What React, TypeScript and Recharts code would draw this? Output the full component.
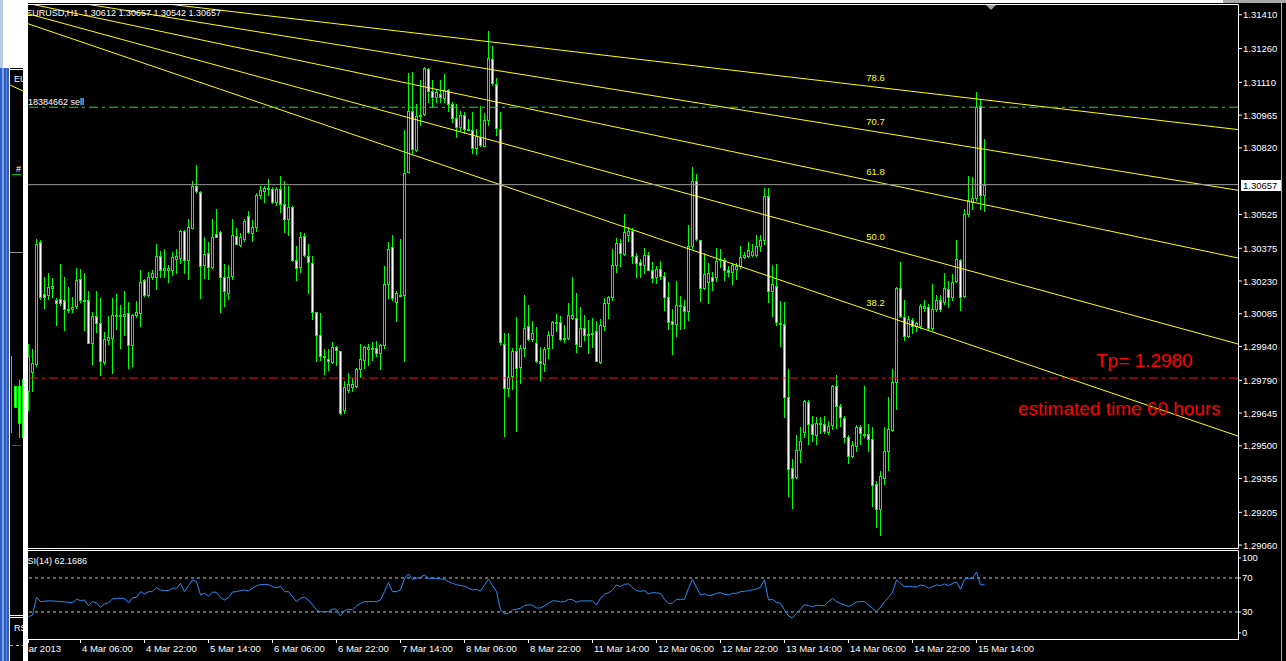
import React from 'react';
import {
  ComposedChart,
  LineChart,
  Line,
  Bar,
  XAxis,
  YAxis,
  ReferenceLine,
  ReferenceDot,
} from 'recharts';

const W = 1286;
const H = 661;
const PLOT_L = 28;
const PLOT_R = 1238;
const MAIN_TOP = 5;
const MAIN_BOTTOM = 548;
const RSI_TOP = 550;
const RSI_BOTTOM = 639;
const FONT = '"Liberation Sans", Arial, sans-serif';

// EURUSD H1, one entry per hourly bar (1 Mar 17:00 .. 15 Mar 16:00)
const OPEN = [
  1.29742, 1.29827, 1.29861, 1.30405, 1.30171, 1.30168, 1.30198, 1.30148, 1.3015, 1.30148,
  1.30108, 1.30106, 1.30119, 1.30238, 1.30148, 1.30148, 1.29954, 1.30075, 1.30044, 1.29869,
  1.29967, 1.29978, 1.30077, 1.30075, 1.30075, 1.30088, 1.29947, 1.3008, 1.30088, 1.30233,
  1.30168, 1.30246, 1.30246, 1.30342, 1.30281, 1.30277, 1.30277, 1.30328, 1.30331, 1.30452,
  1.30323, 1.30467, 1.30653, 1.30626, 1.303, 1.30354, 1.30292, 1.3044, 1.30447, 1.30246,
  1.30179, 1.30253, 1.3043, 1.3039, 1.30416, 1.3052, 1.30443, 1.3047, 1.3061, 1.30629,
  1.30639, 1.30636, 1.30579, 1.30636, 1.30571, 1.30505, 1.30559, 1.30323, 1.30292, 1.30429,
  1.30339, 1.30312, 1.30091, 1.2999, 1.29899, 1.29886, 1.29869, 1.29936, 1.2992, 1.29657,
  1.29747, 1.29761, 1.29765, 1.29838, 1.29878, 1.29928, 1.29928, 1.29933, 1.29909, 1.29947,
  1.30215, 1.30381, 1.30137, 1.30167, 1.30168, 1.30714, 1.30985, 1.30812, 1.30959, 1.3097,
  1.31168, 1.31072, 1.31044, 1.3106, 1.31041, 1.31075, 1.31016, 1.30951, 1.30912, 1.30967,
  1.30905, 1.30897, 1.30819, 1.3087, 1.3083, 1.30943, 1.31215, 1.31103, 1.30905, 1.29951,
  1.29758, 1.29809, 1.2992, 1.29847, 1.29931, 1.30029, 1.29974, 1.29956, 1.29874, 1.29861,
  1.29931, 1.29993, 1.30047, 1.30049, 1.29978, 1.29978, 1.30067, 1.30064, 1.29944, 1.30021,
  1.29995, 1.29998, 1.30009, 1.29869, 1.30029, 1.30133, 1.30157, 1.303, 1.30398, 1.3035,
  1.30435, 1.30452, 1.30342, 1.30316, 1.30303, 1.30347, 1.3028, 1.30246, 1.30285, 1.30253,
  1.30157, 1.30052, 1.3004, 1.30122, 1.30119, 1.30095, 1.30385, 1.30672, 1.30412, 1.30199,
  1.30226, 1.30249, 1.3025, 1.30323, 1.30323, 1.30277, 1.30269, 1.30285, 1.30297, 1.30336,
  1.30343, 1.30347, 1.30347, 1.30385, 1.30412, 1.30607, 1.30184, 1.3021, 1.30044, 1.3004,
  1.29714, 1.29401, 1.29362, 1.29482, 1.29559, 1.29696, 1.29595, 1.29548, 1.29595, 1.29595,
  1.29559, 1.2959, 1.29765, 1.29675, 1.29621, 1.29541, 1.29455, 1.29497, 1.29584, 1.29553,
  1.29551, 1.29528, 1.29331, 1.29218, 1.29359, 1.29475, 1.29568, 1.29781, 1.30199, 1.30071,
  1.29987, 1.30057, 1.30029, 1.30029, 1.30111, 1.30117, 1.30024, 1.30106, 1.30145, 1.30137,
  1.30195, 1.30157, 1.3023, 1.30323, 1.30164, 1.30525, 1.30582, 1.30598, 1.31005, 1.30612,
];

const HIGH = [
  1.29951, 1.29928, 1.30416, 1.30413, 1.30246, 1.30266, 1.30243, 1.30153, 1.30306, 1.30246,
  1.30204, 1.30157, 1.30288, 1.30285, 1.30264, 1.30187, 1.30091, 1.30187, 1.30153, 1.30005,
  1.30075, 1.30153, 1.30173, 1.30122, 1.30187, 1.30137, 1.30086, 1.30142, 1.30277, 1.30238,
  1.30269, 1.30277, 1.30396, 1.30365, 1.3037, 1.303, 1.30357, 1.3037, 1.30458, 1.30458,
  1.30505, 1.30672, 1.30746, 1.30629, 1.30424, 1.30401, 1.30505, 1.30548, 1.30452, 1.30305,
  1.30303, 1.30506, 1.30463, 1.30443, 1.30505, 1.3054, 1.30501, 1.30618, 1.30653, 1.30653,
  1.30683, 1.30646, 1.30646, 1.30695, 1.30675, 1.30649, 1.30564, 1.30385, 1.30447, 1.30443,
  1.30396, 1.30339, 1.30091, 1.30088, 1.29928, 1.29928, 1.29959, 1.29944, 1.2992, 1.29789,
  1.29823, 1.29801, 1.29846, 1.29951, 1.29944, 1.29951, 1.29959, 1.29964, 1.29951, 1.30297,
  1.30405, 1.30435, 1.30187, 1.30416, 1.30897, 1.31153, 1.31157, 1.31013, 1.31122, 1.31179,
  1.31173, 1.31122, 1.31078, 1.31122, 1.31149, 1.31083, 1.31021, 1.31013, 1.30982, 1.30979,
  1.30946, 1.30977, 1.30905, 1.31005, 1.30974, 1.31339, 1.31272, 1.31129, 1.30979, 1.29998,
  1.29998, 1.29933, 1.30071, 1.29947, 1.30168, 1.30125, 1.30055, 1.30026, 1.29936, 1.29939,
  1.30009, 1.30055, 1.30086, 1.30075, 1.30037, 1.30133, 1.30246, 1.30179, 1.30117, 1.3008,
  1.30057, 1.30067, 1.30055, 1.3006, 1.30153, 1.30165, 1.30374, 1.30419, 1.30416, 1.30529,
  1.3047, 1.30463, 1.30354, 1.30328, 1.30377, 1.30359, 1.30316, 1.30295, 1.30319, 1.30269,
  1.30227, 1.30106, 1.3023, 1.30164, 1.30145, 1.30478, 1.30737, 1.30706, 1.30413, 1.30354,
  1.30312, 1.30269, 1.30377, 1.30374, 1.30331, 1.30297, 1.30312, 1.30308, 1.30385, 1.30359,
  1.30405, 1.30393, 1.30436, 1.30432, 1.30641, 1.30644, 1.303, 1.30305, 1.3014, 1.30137,
  1.29838, 1.2944, 1.29548, 1.29584, 1.29703, 1.29703, 1.29634, 1.29629, 1.29629, 1.29634,
  1.2961, 1.2977, 1.29812, 1.29683, 1.29634, 1.29548, 1.29522, 1.2959, 1.2959, 1.29765,
  1.29595, 1.29584, 1.29342, 1.29386, 1.29584, 1.29714, 1.29838, 1.30204, 1.30316, 1.30145,
  1.30075, 1.30067, 1.30049, 1.30126, 1.30148, 1.3013, 1.30215, 1.30168, 1.30168, 1.30266,
  1.3023, 1.30261, 1.30412, 1.30328, 1.30551, 1.30695, 1.30691, 1.31067, 1.31036, 1.30861,
];

const LOW = [
  1.29657, 1.29742, 1.29854, 1.30151, 1.30111, 1.3015, 1.3016, 1.30033, 1.30125, 1.30013,
  1.30094, 1.30091, 1.30111, 1.30137, 1.30013, 1.29954, 1.29861, 1.30005, 1.29812, 1.29861,
  1.29951, 1.29824, 1.30018, 1.29931, 1.2999, 1.29843, 1.29854, 1.30071, 1.30029, 1.30164,
  1.30164, 1.30238, 1.30195, 1.3025, 1.30246, 1.30227, 1.30257, 1.30266, 1.30311, 1.30266,
  1.30241, 1.30463, 1.30626, 1.30153, 1.30243, 1.30238, 1.30289, 1.30424, 1.30091, 1.30119,
  1.3015, 1.30241, 1.30393, 1.30385, 1.30408, 1.30443, 1.30408, 1.30452, 1.30598, 1.30579,
  1.3061, 1.30576, 1.30567, 1.30536, 1.30447, 1.30432, 1.30319, 1.30235, 1.30269, 1.30339,
  1.30176, 1.3006, 1.29874, 1.29882, 1.29816, 1.29835, 1.29866, 1.29858, 1.29641, 1.29646,
  1.29739, 1.29742, 1.29762, 1.29804, 1.29843, 1.29858, 1.29882, 1.29897, 1.29838, 1.29931,
  1.30153, 1.30148, 1.30052, 1.30164, 1.29874, 1.30711, 1.30799, 1.30808, 1.30923, 1.30967,
  1.31025, 1.31001, 1.31021, 1.31021, 1.31021, 1.30985, 1.30936, 1.30866, 1.30897, 1.30886,
  1.30897, 1.30799, 1.30791, 1.3083, 1.30827, 1.3092, 1.31098, 1.30877, 1.29951, 1.29544,
  1.29719, 1.2975, 1.29564, 1.29776, 1.29897, 1.29967, 1.29964, 1.29871, 1.29792, 1.29832,
  1.29889, 1.29931, 1.30009, 1.29967, 1.29959, 1.29971, 1.3006, 1.29917, 1.2994, 1.2997,
  1.29912, 1.29936, 1.29874, 1.29866, 1.30013, 1.30064, 1.30145, 1.30269, 1.30295, 1.30347,
  1.30408, 1.30308, 1.3025, 1.3025, 1.30266, 1.30277, 1.30226, 1.30222, 1.30238, 1.30103,
  1.30018, 1.29905, 1.29987, 1.30018, 1.30021, 1.30057, 1.30377, 1.30412, 1.30142, 1.30196,
  1.30134, 1.30188, 1.3023, 1.30292, 1.30233, 1.30253, 1.30218, 1.30238, 1.30288, 1.30331,
  1.30336, 1.30339, 1.30339, 1.30362, 1.30393, 1.30137, 1.30075, 1.30037, 1.29944, 1.29626,
  1.29277, 1.29223, 1.29355, 1.29429, 1.29541, 1.2951, 1.29522, 1.2951, 1.29556, 1.29556,
  1.29553, 1.29575, 1.29579, 1.29587, 1.29517, 1.29424, 1.29451, 1.29475, 1.29506, 1.29541,
  1.29479, 1.29235, 1.29142, 1.29103, 1.29331, 1.29393, 1.29564, 1.29665, 1.30072, 1.29967,
  1.29982, 1.29998, 1.30009, 1.30021, 1.30099, 1.30018, 1.30013, 1.30099, 1.30099, 1.3013,
  1.30114, 1.30145, 1.30226, 1.30102, 1.3016, 1.3052, 1.30551, 1.30591, 1.30551, 1.30542,
];

const CLOSE = [
  1.29897, 1.29866, 1.30396, 1.30157, 1.30157, 1.30204, 1.30207, 1.30133, 1.30133, 1.30106,
  1.30103, 1.30117, 1.30235, 1.30148, 1.30147, 1.29956, 1.30075, 1.30044, 1.29874, 1.29974,
  1.29982, 1.3008, 1.3008, 1.30078, 1.30086, 1.29947, 1.30078, 1.30094, 1.30226, 1.30168,
  1.30249, 1.30266, 1.30342, 1.30281, 1.30288, 1.30289, 1.30337, 1.30339, 1.30452, 1.30323,
  1.3047, 1.30653, 1.30629, 1.30297, 1.3035, 1.30292, 1.30424, 1.30424, 1.30246, 1.30184,
  1.30246, 1.30432, 1.30396, 1.30424, 1.30498, 1.30447, 1.3047, 1.3061, 1.30633, 1.30641,
  1.30643, 1.30579, 1.30639, 1.30571, 1.30505, 1.30556, 1.30323, 1.30288, 1.30424, 1.30347,
  1.30316, 1.30094, 1.2999, 1.29897, 1.29897, 1.29874, 1.29936, 1.29923, 1.29644, 1.29761,
  1.29773, 1.29773, 1.2984, 1.29885, 1.29936, 1.29939, 1.29933, 1.29912, 1.29947, 1.30215,
  1.30374, 1.30153, 1.30176, 1.30168, 1.30708, 1.30982, 1.30815, 1.30959, 1.30967, 1.31173,
  1.31072, 1.31044, 1.31067, 1.31047, 1.31078, 1.31016, 1.30954, 1.30912, 1.30967, 1.30905,
  1.309, 1.30819, 1.30874, 1.30833, 1.30943, 1.31219, 1.31106, 1.30908, 1.29959, 1.29758,
  1.29804, 1.2992, 1.29843, 1.29933, 1.30021, 1.29971, 1.29998, 1.29874, 1.29866, 1.29928,
  1.2999, 1.30049, 1.3005, 1.29971, 1.29971, 1.3008, 1.3008, 1.29951, 1.30021, 1.2999,
  1.29993, 1.30001, 1.29877, 1.30033, 1.30133, 1.3016, 1.303, 1.30398, 1.30354, 1.30447,
  1.30452, 1.30342, 1.30312, 1.30303, 1.30347, 1.3028, 1.30243, 1.30285, 1.3025, 1.30157,
  1.30049, 1.3004, 1.30122, 1.30125, 1.30095, 1.30385, 1.30672, 1.30416, 1.30199, 1.30261,
  1.30266, 1.3023, 1.3032, 1.30328, 1.30277, 1.30272, 1.303, 1.30297, 1.30336, 1.30347,
  1.30367, 1.30365, 1.30385, 1.30412, 1.30607, 1.30184, 1.30215, 1.30049, 1.3004, 1.29716,
  1.29396, 1.29358, 1.29482, 1.29522, 1.29699, 1.29598, 1.29551, 1.29599, 1.29599, 1.29564,
  1.29587, 1.29765, 1.29677, 1.29626, 1.29541, 1.29455, 1.29502, 1.29584, 1.29556, 1.29548,
  1.29528, 1.29328, 1.29218, 1.29367, 1.29479, 1.29575, 1.29781, 1.30199, 1.30075, 1.29987,
  1.3006, 1.30029, 1.30044, 1.30119, 1.3012, 1.30021, 1.30106, 1.30145, 1.30106, 1.30199,
  1.3016, 1.30226, 1.30328, 1.3016, 1.30529, 1.30591, 1.30598, 1.31001, 1.30613, 1.30657,
];

const RSI = [
  24.5, 26.5, 47.3, 42.2, 42.6, 43, 43, 42.6, 42.2, 41.8,
  41.4, 41, 44.9, 43.4, 44.1, 37.5, 42.2, 40.6, 35.5, 39.4,
  41, 45.3, 46.1, 46.1, 46.1, 41, 46.5, 47.3, 53.9, 51.2,
  53.9, 53.9, 58.6, 55.9, 55.1, 55.1, 57.9, 57.9, 63.7, 53.9,
  61, 67.7, 65.7, 50, 52, 48.8, 53.2, 53.2, 46.9, 44.1,
  46.9, 53.5, 53.9, 55.1, 55.9, 54.7, 57.9, 61, 62.2, 62.2,
  62.2, 59.8, 58.6, 59.8, 53.9, 53.9, 48, 42.2, 46.1, 47.3,
  44.1, 38.3, 32.4, 30.4, 30.4, 30.4, 33.5, 33.2, 25.3, 31.6,
  33.2, 32.4, 37.1, 40.2, 42.2, 42.2, 42.2, 42.2, 44.1, 53.9,
  64.5, 53.9, 53.9, 55.9, 69.6, 74.7, 68.4, 69.6, 70.8, 73.5,
  69.6, 69.6, 69.2, 68.8, 68.4, 65.7, 63.7, 62.2, 61, 60.6,
  57.9, 55.9, 56.7, 54.7, 61.8, 68.8, 61, 53.9, 32.4, 27.7,
  28.5, 32.4, 33.2, 34.4, 37.5, 38.3, 37.9, 34.7, 34.7, 37.1,
  40.2, 43, 43, 41.8, 42.2, 44.9, 44.5, 41.4, 43, 43,
  43, 43, 38.3, 46.1, 51.2, 52.4, 55.9, 61.8, 59.8, 62.6,
  63, 58.6, 55.1, 54.3, 55.1, 51.2, 52.8, 52.4, 52, 44.9,
  40.2, 40.2, 44.9, 44.9, 44.9, 57.9, 68.4, 59, 50, 51.2,
  49.2, 50, 52, 52.8, 50.8, 50, 52, 52, 53.9, 54.3,
  55.1, 55.9, 57.1, 59, 67.7, 44.1, 44.9, 41.4, 40.2, 32.4,
  25.3, 23, 28.5, 33.2, 38.6, 37.5, 36.3, 37.9, 37.5, 37.5,
  42.2, 46.1, 42.2, 40.2, 38.3, 36.3, 38.6, 41.8, 42.2, 42.2,
  38.3, 34.4, 30.4, 35.5, 42.2, 47.3, 53.2, 67.7, 63.7, 59.8,
  60.2, 59.8, 59.4, 61.8, 61, 57.9, 59.8, 61.8, 61, 63,
  61, 63.4, 65.3, 56.7, 68.4, 69.6, 69.6, 77.1, 61.8, 62.2,
];

const priceTicks = [
  1.3141, 1.3126, 1.3111, 1.30965, 1.3082, 1.30525, 1.30375, 1.3023, 1.30085,
  1.2994, 1.2979, 1.29645, 1.295, 1.29355, 1.29205, 1.2906,
];
const rsiTicks = [0, 30, 70, 100];

const dateTickIdx = [0, 13, 29, 45, 61, 77, 93, 109, 125, 141, 157, 173, 189, 205, 221, 237];
const dateTickLabels = [
  '1 Mar 2013', '4 Mar 06:00', '4 Mar 22:00', '5 Mar 14:00', '6 Mar 06:00', '6 Mar 22:00',
  '7 Mar 14:00', '8 Mar 06:00', '8 Mar 22:00', '11 Mar 14:00', '12 Mar 06:00', '12 Mar 22:00',
  '13 Mar 14:00', '14 Mar 06:00', '14 Mar 22:00', '15 Mar 14:00',
];

// fibonacci fan, price where each ray meets the left and right edge of the window
const fanLevels = ['78.6', '70.7', '61.8', '50.0', '38.2'];
const fanStart = [1.3153, 1.31499, 1.3146, 1.31414, 1.3137];
const fanEnd = [1.30901, 1.30632, 1.30332, 1.29951, 1.29543];
const fanLabelPrice = [1.31131, 1.30936, 1.30714, 1.30426, 1.30134];
const fanLabelBar = 211.75;

const bidPrice = 1.30657;
const sellPrice = 1.31;
const tpPrice = 1.298;

const xDomain = [-0.125, 302.375];
const priceDomain = [1.29047, 1.31453];
const rsiDomain = [-1.8, 102.9];

const candles = OPEN.map((o, i) => ({
  i,
  o,
  h: HIGH[i],
  l: LOW[i],
  c: CLOSE[i],
  range: [LOW[i], HIGH[i]],
}));
const rsiData = RSI.map((rsi, i) => ({ i, rsi }));

const Candle = (props: any) => {
  const { x, y, width, height, payload } = props;
  if (x == null || payload == null) return null;
  const col = Math.floor(x + width / 2);
  const { o, h, l, c } = payload;
  const top0 = Math.min(y, y + height);
  const hgt = Math.abs(height);
  const span = h - l || 1;
  const at = (v: number) => top0 + ((h - v) / span) * hgt;
  const yH = Math.round(at(h));
  const yL = Math.round(at(l));
  const bTop = Math.round(at(Math.max(o, c)));
  let bBot = Math.round(at(Math.min(o, c)));
  if (bBot - bTop < 1) bBot = bTop + 1;
  const bh = bBot - bTop + 1;
  return (
    <g shapeRendering="crispEdges">
      <rect x={col} y={yH} width={1} height={Math.max(1, yL - yH + 1)} fill="#00ff00" />
      <rect x={col - 1} y={bTop} width={3} height={bh} fill="#00ff00" />
      {bh > 2 && (
        <rect x={col} y={bTop + 1} width={1} height={bh - 2} fill={c < o ? '#ffffff' : '#000000'} />
      )}
    </g>
  );
};

const PriceTick = (props: any) => {
  const { y, payload } = props;
  return (
    <g>
      <line x1={PLOT_R + 1} x2={PLOT_R + 4} y1={y} y2={y} stroke="#ffffff" />
      <text x={PLOT_R + 5} y={y + 3.5} fill="#ffffff" fontSize={9.5} fontFamily={FONT}>
        {Number(payload.value).toFixed(5)}
      </text>
    </g>
  );
};

const RsiTick = (props: any) => {
  const { y, payload } = props;
  const v = payload.value;
  const yy = v === 100 ? y + 5.5 : v === 0 ? y - 4.5 : y;
  return (
    <g>
      <line x1={PLOT_R + 1} x2={PLOT_R + 3} y1={yy} y2={yy} stroke="#ffffff" />
      <text x={PLOT_R + 4} y={yy + 3.5} fill="#ffffff" fontSize={9.5} fontFamily={FONT}>
        {v}
      </text>
    </g>
  );
};

const DateTick = (props: any) => {
  const { x, payload } = props;
  const k = dateTickIdx.indexOf(payload.value);
  const first = k === 0;
  return (
    <g>
      <line x1={x} x2={x} y1={RSI_BOTTOM} y2={RSI_BOTTOM + 4} stroke="#ffffff" />
      <text
        x={first ? x + 32.5 : x + 1.5}
        y={RSI_BOTTOM + 13}
        textAnchor={first ? 'end' : 'start'}
        fill="#ffffff"
        fontSize={9.5}
        fontFamily={FONT}
      >
        {dateTickLabels[k]}
      </text>
    </g>
  );
};

const PriceTag = (props: any) => {
  const vb = props.viewBox || {};
  const x = vb.x + vb.width + 3;
  const y = Math.round(vb.y);
  return (
    <g>
      <rect x={x} y={y - 5} width={40} height={11} fill="#ffffff" />
      <text x={x + 2} y={y + 4} fill="#000000" fontSize={9.5} fontFamily={FONT}>
        {bidPrice.toFixed(5)}
      </text>
    </g>
  );
};

const Overlay = () => (
  <svg width={W} height={H} style={{ position: 'absolute', left: 0, top: 0 }}>
    <rect x={28} y={0} width={1195} height={3} fill="#ffffff" />
    <rect x={1223} y={0} width={63} height={3} fill="#a8a8a8" />
    <path d={`M${PLOT_L} 4.5H${PLOT_R + 0.5}V${MAIN_BOTTOM + 0.5}H${PLOT_L}`} stroke="#ffffff" fill="none" />
    <path d={`M${PLOT_L} ${RSI_TOP + 0.5}H${PLOT_R + 0.5}V${RSI_BOTTOM + 0.5}H${PLOT_L}`} stroke="#ffffff" fill="none" />
    <polygon points="986,5 996,5 991,10" fill="#a0a0a0" />
    <line x1={1281.5} x2={1281.5} y1={0} y2={H} stroke="#b0b0b0" />

    <text x={221} y={16} textAnchor="end" fill="#ffffff" fontSize={9} fontFamily={FONT} xmlSpace="preserve">
      EURUSD,H1  1.30612 1.30657 1.30542 1.30657
    </text>
    <text x={84} y={105} textAnchor="end" fill="#ffffff" fontSize={9} fontFamily={FONT}>
      #18384662 sell
    </text>
    <text x={87} y={564} textAnchor="end" fill="#ffffff" fontSize={9} fontFamily={FONT}>
      RSI(14) 62.1686
    </text>
    <text x={1096} y={367} fill="#ff0000" fontSize={19} fontFamily={FONT}>
      Tp= 1.2980
    </text>
    <text x={1018} y={415} fill="#ff0000" fontSize={19} fontFamily={FONT}>
      estimated time 60 hours
    </text>

    {/* window behind, on the left */}
    <rect x={0} y={0} width={28} height={H} fill="#ffffff" />
    <rect x={0} y={0} width={3} height={68} fill="#b5cbe9" />
    <rect x={0} y={68} width={9} height={H - 68} fill="#2d5fc4" />
    <rect x={2} y={68} width={2} height={H - 68} fill="#7ea0e6" />
    <rect x={6} y={68} width={1} height={H - 68} fill="#5b83d8" />
    <rect x={9} y={68} width={14} height={H - 68} fill="#000000" />
    <line x1={9.5} x2={9.5} y1={68} y2={H} stroke="#ffffff" />
    <line x1={9} x2={23} y1={69.5} y2={69.5} stroke="#ffffff" />
    <text x={14} y={82} fill="#ffffff" fontSize={9} fontFamily={FONT}>EU</text>
    <line x1={10} x2={23} y1={85} y2={91} stroke="#ffff00" />
    <text x={16} y={172} fill="#ffffff" fontSize={9} fontFamily={FONT}>#</text>
    <line x1={12} x2={21} y1={174.5} y2={174.5} stroke="#00c000" />
    <line x1={10} x2={23} y1={252.5} y2={252.5} stroke="#909090" />
    <rect x={11} y={356} width={1} height={77} fill="#00ff00" />
    <rect x={14} y={386} width={3} height={22} fill="#00ff00" />
    <rect x={15} y={387} width={1} height={20} fill="#ffffff" />
    <rect x={19} y={380} width={1} height={58} fill="#00ff00" />
    <rect x={18} y={386} width={3} height={38} fill="#00ff00" />
    <rect x={19} y={387} width={1} height={36} fill="#ffffff" />
    <rect x={22} y={379} width={1} height={59} fill="#00ff00" />
    <line x1={12} x2={21} y1={445.5} y2={445.5} stroke="#ff0000" />
    <line x1={10} x2={23} y1={615.5} y2={615.5} stroke="#ffffff" />
    <line x1={10} x2={23} y1={617.5} y2={617.5} stroke="#ffffff" />
    <text x={14} y={631} fill="#ffffff" fontSize={9} fontFamily={FONT}>RS</text>
    <line x1={10} x2={23} y1={645.5} y2={645.5} stroke="#bbbbbb" strokeDasharray="3 3" />
  </svg>
);

export default function App() {
  return (
    <div style={{ position: 'absolute', left: 0, top: 0, width: W, height: H, background: '#000000', overflow: 'hidden' }}>
      <div style={{ position: 'absolute', left: 0, top: 0 }}>
        <ComposedChart
          width={W}
          height={H}
          data={candles}
          margin={{ top: MAIN_TOP, right: 0, bottom: H - MAIN_BOTTOM, left: PLOT_L }}
        >
          <XAxis type="number" dataKey="i" domain={xDomain} allowDataOverflow hide />
          <YAxis
            orientation="right"
            domain={priceDomain}
            allowDataOverflow
            ticks={priceTicks}
            interval={0}
            width={W - PLOT_R}
            tick={<PriceTick />}
            tickLine={false}
            axisLine={false}
          />
          {fanLevels.map((lvl, k) => (
            <ReferenceLine
              key={lvl}
              segment={[
                { x: xDomain[0], y: fanStart[k] },
                { x: xDomain[1], y: fanEnd[k] },
              ]}
              stroke="#ffff00"
              strokeWidth={1}
              ifOverflow="hidden"
            />
          ))}
          <ReferenceLine y={sellPrice} stroke="#22dd22" strokeDasharray="9 4 3 4" />
          <ReferenceLine y={tpPrice} stroke="#ff1010" strokeDasharray="9 4 3 4" />
          <ReferenceLine y={bidPrice} stroke="#9a9a9a" label={(p: any) => <PriceTag {...p} />} />
          {fanLevels.map((lvl, k) => (
            <ReferenceDot
              key={'l' + lvl}
              x={fanLabelBar}
              y={fanLabelPrice[k]}
              r={0}
              fill="none"
              stroke="none"
              label={{ value: lvl, position: 'center', fill: '#ffff00', fontSize: 9.5, fontFamily: FONT }}
            />
          ))}
          <Bar dataKey="range" barSize={4} shape={(p: any) => <Candle {...p} />} isAnimationActive={false} />
        </ComposedChart>
      </div>
      <div style={{ position: 'absolute', left: 0, top: 0 }}>
        <LineChart
          width={W}
          height={H}
          data={rsiData}
          margin={{ top: RSI_TOP, right: 0, bottom: 0, left: PLOT_L }}
        >
          <XAxis
            type="number"
            dataKey="i"
            domain={xDomain}
            allowDataOverflow
            ticks={dateTickIdx}
            interval={0}
            height={H - RSI_BOTTOM}
            tick={<DateTick />}
            tickLine={false}
            axisLine={false}
          />
          <YAxis
            orientation="right"
            domain={rsiDomain}
            allowDataOverflow
            ticks={rsiTicks}
            interval={0}
            width={W - PLOT_R}
            tick={<RsiTick />}
            tickLine={false}
            axisLine={false}
          />
          <ReferenceLine y={70} stroke="#c8c8c8" strokeDasharray="3 3" />
          <ReferenceLine y={30} stroke="#c8c8c8" strokeDasharray="3 3" />
          <Line
            dataKey="rsi"
            type="linear"
            stroke="#1e90ff"
            strokeWidth={1}
            dot={false}
            isAnimationActive={false}
          />
        </LineChart>
      </div>
      <Overlay />
    </div>
  );
}
